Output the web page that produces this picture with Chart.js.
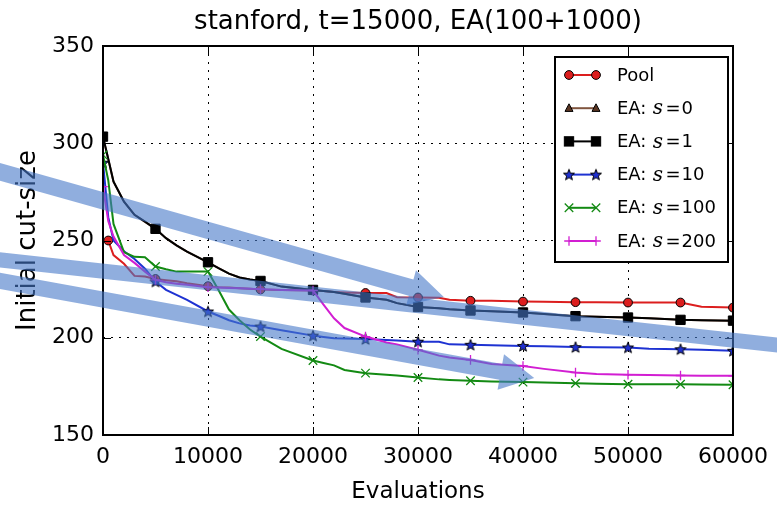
<!DOCTYPE html>
<html><head><meta charset="utf-8">
<script src="https://cdn.jsdelivr.net/npm/chart.js@4/dist/chart.umd.min.js"></script>
<style>html,body{margin:0;padding:0;background:#fff}#wrap{width:777px;height:506px}</style>
</head><body><div id="wrap"><canvas id="c" width="777" height="506"></canvas></div>
<script>
const evaluations = [0,500,1000,2000,3000,4000,5000,6000,7000,8000,10000,11000,12000,13000,14000,15000,17000,20000,21000,22000,23000,25000,27000,28000,30000,32000,33000,35000,37000,40000,42000,45000,47000,50000,52000,55000,57000,60000];
const pool = [null,250,242.5,238,231.8,231.5,230.2,229.6,229,228,226.5,226,225.8,225.5,225.2,224.8,224.5,224.3,224,223.5,223.3,223,223,220.8,220.7,220.6,219.5,219,219,218.6,218.5,218.3,218.2,218.1,218.1,218.1,216,215.5];
const eaS0 = [303.2,291.8,280.2,270,263.2,259.6,256,251.2,247.5,244.3,238.8,235.8,233,231,230,229.2,226.3,224.6,224,223.5,222.6,220.7,219.5,217.8,215.8,215.2,214.7,214,213.6,213,212.2,211.1,210.8,210.4,210,209.2,209,208.8];
const eaS1 = [303.4,292,280.3,270,263.2,259.7,256,251.2,247.5,244.3,238.8,235.8,233,231,230,229.2,226.3,224.6,224,223.5,222.6,220.7,219.5,217.8,215.8,215.2,214.7,214,213.6,213,212.2,211.1,210.8,210.4,210,209.2,209,208.8];
const eaS10 = [290,262,250,244.5,240.5,235.5,228.9,224.6,222,219.5,213.5,211.3,209,207.4,206.3,205.8,203.9,201.1,200.4,199.8,199.6,199.3,198.9,198.6,198,197.9,196.6,196.4,196.2,195.8,195.6,195.2,195.1,195,194.3,194.1,193.8,193.3];
const eaS100 = [294,281,258.5,244,241.6,241.4,236.6,235.2,234,234,234,224.5,214.5,209,204.2,200.6,194.3,188.3,187,185.8,183.4,181.8,181,180.6,179.6,178.6,178.3,177.9,177.5,177.2,177,176.6,176.3,176.1,176.1,176.1,176,175.8];
const eaS200 = [277.7,260,252,242.5,238.5,234,229.8,228.5,227.8,227.2,226,225.8,225.6,225.4,225.2,225,224.6,224.3,217,210,205,200.6,197.6,196.6,193.8,190.8,189.9,188.6,186.5,185.5,184,182.1,181.3,181,180.8,180.6,180.5,180.4];
const seriesLabels = ['Pool','EA: s=0','EA: s=1','EA: s=10','EA: s=100','EA: s=200'];
const xTickValues = [0,10000,20000,30000,40000,50000,60000];
const yTickValues = [150,200,250,300,350];
// annotation arrows (data coordinates): tail and tip
const arrowTails = [[-12590,289.5],[-12590,241.7],[-12590,232.0]];
const arrowTips  = [[32460,221.0],[68000,194.0],[41070,179.3]];

const FONT = '"DejaVu Sans", sans-serif';

function makeStar(r, fill) {
  const s = Math.ceil(r*2+4);
  const c = document.createElement('canvas'); c.width = s; c.height = s;
  const g = c.getContext('2d'); const cx = s/2, cy = s/2 + 0.5;
  g.beginPath();
  for (let i=0;i<10;i++){ const rr = (i%2===0? r : r*0.42); const a = -Math.PI/2 + i*Math.PI/5; g.lineTo(cx+rr*Math.cos(a), cy+rr*Math.sin(a)); }
  g.closePath(); g.fillStyle = fill; g.fill(); g.lineWidth = 1; g.strokeStyle = '#000'; g.stroke();
  return c;
}
const starImg = makeStar(5.8, '#2030d0');

const styles = [
  {line:'#dc1e1e', fill:'#dc1e1e', edge:'#000', style:'circle', r:4.4, bw:1},
  {line:'#80553f', fill:'#5a3522', edge:'#000', style:'triangle', r:4, bw:1},
  {line:'#000000', fill:'#000000', edge:'#000', style:'rect', r:6.6, bw:1},
  {line:'#1e32d2', fill:'#1e32d2', edge:'#000', style:starImg, r:5, bw:1},
  {line:'#138a13', fill:'#138a13', edge:'#138a13', style:'crossRot', r:6, bw:1.3},
  {line:'#d21ed2', fill:'#d21ed2', edge:'#d21ed2', style:'cross', r:4.8, bw:1.3}
];
const seriesValues = [pool, eaS0, eaS1, eaS10, eaS100, eaS200];

const datasets = seriesValues.map((vals, k) => {
  const st = styles[k];
  const data = evaluations.map((x,i)=>({x:x, y:vals[i]})).filter(p => p.y !== null);
  return {
    label: seriesLabels[k], data: data, order: 5-k,
    borderColor: st.line, backgroundColor: st.fill, borderWidth: 2,
    pointStyle: st.style, pointBackgroundColor: st.fill, pointBorderColor: st.edge,
    pointBorderWidth: st.bw,
    pointRadius: ctx => (ctx.dataIndex === 0 || (ctx.raw && ctx.raw.x % 5000 === 0)) ? st.r : 0,
    pointHoverRadius: 0, tension: 0, fill: false
  };
});

function drawMarker(ctx, st, x, y) {
  ctx.save();
  ctx.fillStyle = st.fill; ctx.strokeStyle = st.edge; ctx.lineWidth = st.bw;
  const r = st.r;
  if (typeof st.style !== 'string') {
    ctx.drawImage(st.style, x - st.style.width/2, y - st.style.height/2);
  } else if (st.style === 'circle') {
    ctx.beginPath(); ctx.arc(x, y, r, 0, Math.PI*2); ctx.fill(); ctx.stroke();
  } else if (st.style === 'triangle') {
    ctx.beginPath(); ctx.moveTo(x, y - r*1.1); ctx.lineTo(x + r, y + r*0.8); ctx.lineTo(x - r, y + r*0.8); ctx.closePath(); ctx.fill(); ctx.stroke();
  } else if (st.style === 'rect') {
    const h = r*Math.SQRT1_2; ctx.fillRect(x-h, y-h, 2*h, 2*h); ctx.strokeRect(x-h, y-h, 2*h, 2*h);
  } else if (st.style === 'crossRot') {
    const h = r*Math.SQRT1_2; ctx.beginPath(); ctx.moveTo(x-h,y-h); ctx.lineTo(x+h,y+h); ctx.moveTo(x-h,y+h); ctx.lineTo(x+h,y-h); ctx.stroke();
  } else if (st.style === 'cross') {
    ctx.beginPath(); ctx.moveTo(x,y-r); ctx.lineTo(x,y+r); ctx.moveTo(x-r,y); ctx.lineTo(x+r,y); ctx.stroke();
  }
  ctx.restore();
}

const framePlugin = {
  id: 'frame',
  afterDatasetsDraw(chart) {
    const {ctx, chartArea: a, scales} = chart;
    ctx.save();
    ctx.strokeStyle = '#000'; ctx.lineWidth = 1;
    ctx.beginPath();
    xTickValues.forEach(v => { const px = Math.round(scales.x.getPixelForValue(v)) + 0.5; ctx.moveTo(px, a.bottom); ctx.lineTo(px, a.bottom - 8); ctx.moveTo(px, a.top); ctx.lineTo(px, a.top + 8); });
    yTickValues.forEach(v => { const py = Math.round(scales.y.getPixelForValue(v)) + 0.5; ctx.moveTo(a.left, py); ctx.lineTo(a.left + 8, py); ctx.moveTo(a.right, py); ctx.lineTo(a.right - 8, py); });
    ctx.stroke();
    ctx.lineWidth = 2;
    ctx.strokeRect(a.left, a.top, a.right - a.left, a.bottom - a.top);
    // legend
    const bx = 555, by = 57, bw = 173, bh = 205;
    ctx.fillStyle = '#fff'; ctx.fillRect(bx, by, bw, bh);
    ctx.lineWidth = 2; ctx.strokeStyle = '#000'; ctx.strokeRect(bx, by, bw, bh);
    seriesLabels.forEach((lab, k) => {
      const st = styles[k]; const y = 75 + k*33.2;
      ctx.save(); ctx.strokeStyle = st.line; ctx.lineWidth = 2; ctx.beginPath(); ctx.moveTo(569, y); ctx.lineTo(596, y); ctx.stroke(); ctx.restore();
      drawMarker(ctx, st, 569, y); drawMarker(ctx, st, 596, y);
      ctx.fillStyle = '#000'; ctx.textBaseline = 'middle'; ctx.textAlign = 'left';
      ctx.font = '18px ' + FONT;
      const m = lab.match(/^(EA: )s=(\d+)$/);
      if (!m) { ctx.fillText(lab, 617, y + 1); return; }
      ctx.fillText(m[1], 617, y + 1);
      let cx = 617 + ctx.measureText(m[1]).width + 0.5;
      ctx.font = 'italic 20px "DejaVu Serif", serif';
      ctx.fillText('s', cx, y + 1); cx += ctx.measureText('s').width + 2.5;
      ctx.font = '18px ' + FONT;
      ctx.fillText('=', cx, y + 1); cx += ctx.measureText('=').width + 1;
      ctx.fillText(m[2], cx, y + 1);
    });
    ctx.restore();
  },
  afterDraw(chart) {
    const {ctx, scales} = chart;
    const shaft = [8.5, 7.5, 8], headL = 34, headW = 18;
    ctx.save();
    ctx.fillStyle = 'rgba(70,120,200,0.6)';
    arrowTails.forEach((t, k) => {
      const sx = scales.x.getPixelForValue(t[0]), sy = scales.y.getPixelForValue(t[1]);
      const tx = scales.x.getPixelForValue(arrowTips[k][0]), ty = scales.y.getPixelForValue(arrowTips[k][1]);
      const len = Math.hypot(tx - sx, ty - sy); const ux = (tx - sx)/len, uy = (ty - sy)/len; const nx = -uy, ny = ux;
      const bxp = tx - ux*headL, byp = ty - uy*headL; const w = shaft[k];
      ctx.beginPath();
      ctx.moveTo(sx + nx*w, sy + ny*w);
      ctx.lineTo(bxp + nx*w, byp + ny*w);
      ctx.lineTo(bxp + nx*headW, byp + ny*headW);
      ctx.lineTo(tx, ty);
      ctx.lineTo(bxp - nx*headW, byp - ny*headW);
      ctx.lineTo(bxp - nx*w, byp - ny*w);
      ctx.lineTo(sx - nx*w, sy - ny*w);
      ctx.closePath(); ctx.fill();
    });
    ctx.restore();
  }
};

new Chart(document.getElementById('c'), {
  type: 'line',
  data: { datasets: datasets },
  options: {
    responsive: false, animation: false, events: [],
    layout: { padding: { left: 0, right: 40, top: 0, bottom: 0 } },
    plugins: {
      legend: { display: false }, tooltip: { enabled: false },
      title: { display: true, fullSize: false, text: 'stanford, t=15000, EA(100+1000)', color: '#000',
        font: { family: FONT, size: 26, weight: 'normal', lineHeight: 1.2 }, padding: { top: 7, bottom: 7.8 } }
    },
    scales: {
      x: {
        type: 'linear', min: 0, max: 60000,
        afterBuildTicks: s => { s.ticks = xTickValues.map(v => ({ value: v })); },
        ticks: { color: '#000', font: { family: FONT, size: 22 }, padding: 9, maxRotation: 0, autoSkip: false, callback: v => String(v) },
        grid: { color: '#000', lineWidth: 1, drawTicks: false },
        border: { display: false, dash: [2, 6] },
        title: { display: true, text: 'Evaluations', color: '#000', font: { family: FONT, size: 23, lineHeight: 1.2 }, padding: { top: 0, bottom: 0 } },
        afterFit: s => { s.height = 71; }
      },
      y: {
        type: 'linear', min: 150, max: 350,
        afterBuildTicks: s => { s.ticks = yTickValues.map(v => ({ value: v })); },
        ticks: { color: '#000', font: { family: FONT, size: 22 }, padding: 9, callback: v => String(v) },
        grid: { color: '#000', lineWidth: 1, drawTicks: false },
        border: { display: false, dash: [2, 6] },
        title: { display: true, text: 'Initial cut-size', color: '#000', font: { family: FONT, size: 26, lineHeight: 1.2 }, padding: { top: 13, bottom: 0 } },
        afterFit: s => { s.width = 103; }
      }
    }
  },
  plugins: [framePlugin]
});
</script></body></html>
